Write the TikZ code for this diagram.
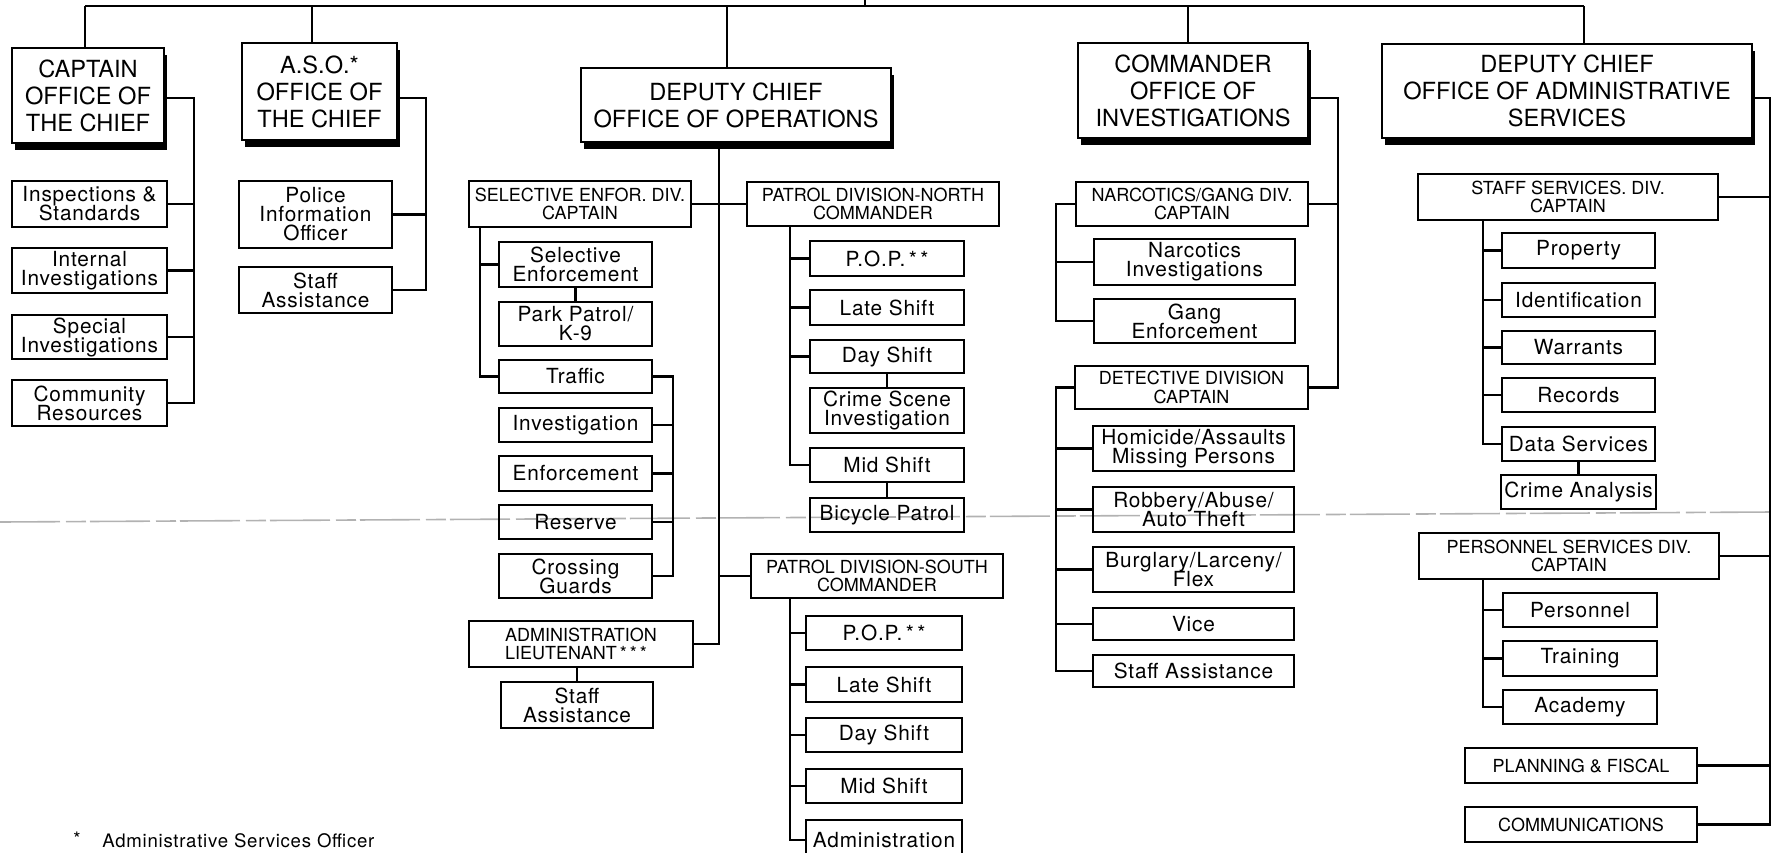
\documentclass[tikz,border=0pt]{standalone}
\usepackage{fontspec}
\setmainfont{TeX Gyre Heros}
\newfontfamily\unitfont[LetterSpace=4]{TeX Gyre Heros}
\usetikzlibrary{positioning,calc,shadows}
\lineskiplimit=-20pt
\tikzset{
  office/.style={draw, line width=1.25pt, fill=white, align=center, inner sep=0pt,
    font=\fontsize{11.8}{13.5}\selectfont,
    drop shadow={shadow xshift=1.6pt, shadow yshift=-3.6pt, fill=black, opacity=1}},
  division/.style={draw, line width=1.2pt, align=center, inner sep=0pt, font=\fontsize{9}{9.4}\selectfont},
  unit/.style={draw, line width=1.2pt, align=center, inner sep=0pt, font=\unitfont\fontsize{10.4}{9.5}\selectfont},
  wh/.style 2 args={minimum width=#1*0.5pt, minimum height=#2*0.5pt},
  link/.style={line width=1.2pt},
  note/.style={inner sep=0pt, font=\unitfont\fontsize{9.3}{11}\selectfont}}

\begin{document}
\begin{tikzpicture}[x=0.5pt, y=-0.5pt]
\useasboundingbox (0,0) rectangle (1772,852);
\clip (0,0) rectangle (1772,852);

% scan seam across the sheet
\coordinate (seamL) at (0,522);
\coordinate (seamR) at (1772,512);
\draw[gray!60, line width=0.8pt, dash pattern=on 30pt off 3pt on 10pt off 2pt] (seamL) -- (seamR);

% offices
\node[office, wh={152}{95}] (capt) at (88,95.5) {CAPTAIN\\OFFICE OF\\THE CHIEF};
\node[office, wh={155}{97}] (aso) at (319.5,91.5) {A.S.O.*\\OFFICE OF\\THE CHIEF};
\node[office, wh={310}{74}] (ops) at (736,105) {DEPUTY CHIEF\\OFFICE OF OPERATIONS};
\node[office, wh={230}{95}] (inv) at (1193,90.5) {COMMANDER\\OFFICE OF\\INVESTIGATIONS};
\node[office, wh={370}{94}] (adm) at (1567,91) {DEPUTY CHIEF\\OFFICE OF ADMINISTRATIVE\\SERVICES};

% office of the chief
\node[unit, wh={155}{46}] (insp) at (89.5,204) {Inspections \&\\Standards};
\node[unit, wh={155}{45}] (intl) at (89.5,270.5) {Internal\\Investigations};
\node[unit, wh={155}{44}] (spec) at (89.5,337) {Special\\Investigations};
\node[unit, wh={155}{46}] (comm) at (89.5,403) {Community\\Resources};
\node[unit, wh={153}{67}] (pio) at (315.5,214.5) {Police\\Information\\Officer};
\node[unit, wh={153}{46}] (asst1) at (315.5,290) {Staff\\Assistance};

% operations
\node[division, wh={222}{46}] (sed) at (580,204) {SELECTIVE ENFOR. DIV.\\CAPTAIN};
\node[division, wh={252}{44}] (pdn) at (873,204) {PATROL DIVISION-NORTH\\COMMANDER};
\node[unit, wh={153}{45}] (selenf) at (575.5,264.5) {Selective\\Enforcement};
\node[unit, wh={153}{44}] (park) at (575.5,324) {Park Patrol/\\K-9};
\node[unit, wh={153}{33}] (traffic) at (575.5,376.5) {Traffic};
\node[unit, wh={153}{34}] (investig) at (575.5,425) {Investigation};
\node[unit, wh={153}{35}] (enforce) at (575.5,473.5) {Enforcement};
\node[unit, wh={153}{34}] (reserve) at (575.5,522) {Reserve};
\node[unit, wh={153}{44}] (crossing) at (575.5,576) {Crossing\\Guards};
\node[division, wh={224}{46}, align=left] (adminlt) at (581,644) {ADMINISTRATION\\LIEUTENANT\,*\,*\,*};
\node[unit, wh={152}{46}] (asst2) at (577,705) {Staff\\Assistance};

\node[unit, wh={154}{35}] (pop1) at (887,258.5) {P.O.P.\,*\,*};
\node[unit, wh={154}{35}] (late1) at (887,307.5) {Late Shift};
\node[unit, wh={154}{33}] (day1) at (887,356.5) {Day Shift};
\node[unit, wh={154}{45}] (csi) at (887,410.5) {Crime Scene\\Investigation};
\node[unit, wh={154}{34}] (mid1) at (887,465) {Mid Shift};
\node[unit, wh={154}{34}] (bike) at (887,515) {Bicycle Patrol};

\node[division, wh={252}{44}] (pds) at (877,576) {PATROL DIVISION-SOUTH\\COMMANDER};
\node[unit, wh={156}{34}] (pop2) at (884,633) {P.O.P.\,*\,*};
\node[unit, wh={156}{35}] (late2) at (884,684.5) {Late Shift};
\node[unit, wh={156}{34}] (day2) at (884,735) {Day Shift};
\node[unit, wh={156}{34}] (mid2) at (884,786) {Mid Shift};
\node[unit, wh={156}{40}] (admn) at (884,840) {Administration};

% investigations
\node[division, wh={232}{44}] (ngd) at (1192,204) {NARCOTICS/GANG DIV.\\CAPTAIN};
\node[unit, wh={201}{46}] (narc) at (1194.5,262) {Narcotics\\Investigations};
\node[unit, wh={201}{44}] (gang) at (1194.5,321) {Gang\\Enforcement};
\node[division, wh={233}{43}] (dd) at (1191.5,387.5) {DETECTIVE DIVISION\\CAPTAIN};
\node[unit, wh={201}{45}] (homi) at (1193.5,448.5) {Homicide/Assaults\\Missing Persons};
\node[unit, wh={201}{45}] (robb) at (1193.5,509.5) {Robbery/Abuse/\\Auto Theft};
\node[unit, wh={201}{45}] (burg) at (1193.5,569.5) {Burglary/Larceny/\\Flex};
\node[unit, wh={201}{32}] (vice) at (1193.5,624) {Vice};
\node[unit, wh={201}{32}] (asst3) at (1193.5,671) {Staff Assistance};

% administrative services
\node[division, wh={300}{46}] (ssd) at (1568,197) {STAFF SERVICES. DIV.\\CAPTAIN};
\node[unit, wh={153}{35}] (prop) at (1578.5,250.5) {Property};
\node[unit, wh={153}{34}] (ident) at (1578.5,300) {Identification};
\node[unit, wh={153}{33}] (warr) at (1578.5,347.5) {Warrants};
\node[unit, wh={153}{34}] (rec) at (1578.5,395) {Records};
\node[unit, wh={153}{34}] (data) at (1578.5,444) {Data Services};
\node[unit, wh={155}{34}] (crime) at (1578.5,492) {Crime Analysis};
\node[division, wh={300}{46}] (psd) at (1569,556) {PERSONNEL SERVICES DIV.\\CAPTAIN};
\node[unit, wh={154}{34}] (pers) at (1580,610) {Personnel};
\node[unit, wh={154}{35}] (train) at (1580,658.5) {Training};
\node[unit, wh={154}{34}] (acad) at (1580,707) {Academy};
\node[division, wh={232}{35}] (plan) at (1581,765.5) {PLANNING \& FISCAL};
\node[division, wh={232}{35}] (comms) at (1581,824.5) {COMMUNICATIONS};

% footnote
\node[note] (star) at (77,839) {*};
\node[note, anchor=west] (fn) at (102,841) {Administrative Services Officer};

% bus to the chief
\coordinate (chief) at (865,0);
\coordinate (bus) at (865,6);
\coordinate (b1) at (85,6);
\coordinate (b2) at (312,6);
\coordinate (b3) at (727,6);
\coordinate (b4) at (1188,6);
\coordinate (b5) at (1584,6);
\coordinate (hy) at (0,98);
\draw[link] (b1) -- (b5);
\draw[link] (bus) -- (chief);
\draw[link] (b1) -- (b1 |- capt.north);
\draw[link] (b2) -- (b2 |- aso.north);
\draw[link] (b3) -- (b3 |- ops.north);
\draw[link] (b4) -- (b4 |- inv.north);
\draw[link] (b5) -- (b5 |- adm.north);

% spines
\coordinate (sp1) at (194,0);
\coordinate (sp2) at (426,0);
\coordinate (sp3) at (719,0);
\coordinate (sp4) at (480,0);
\coordinate (sp5) at (673,0);
\coordinate (sp6) at (790,0);
\coordinate (sp7) at (1338,0);
\coordinate (sp8) at (1056,0);
\coordinate (sp9) at (1770,0);
\coordinate (sp10) at (1483,0);

\draw[link] (capt.east |- hy) -| (sp1 |- comm.east) -- (comm.east);
\foreach \n in {insp,intl,spec} \draw[link] (\n.east) -- (sp1 |- \n.east);
\draw[link] (aso.east |- hy) -| (sp2 |- asst1.east) -- (asst1.east);
\draw[link] (pio.east) -- (sp2 |- pio.east);

\draw[link] (sp3 |- ops.south) -- (sp3 |- adminlt.east) -- (adminlt.east);
\draw[link] (sed.east) -- (pdn.west);
\draw[link] (sp3 |- pds.west) -- (pds.west);
\draw[link] (sp4 |- sed.south) |- (traffic.west);
\draw[link] (selenf.west) -- (sp4 |- selenf.west);
\draw[link] (park.north |- selenf.south) -- (park.north);
\draw[link] (traffic.east) -| (sp5 |- crossing.east) -- (crossing.east);
\foreach \n in {investig,enforce,reserve} \draw[link] (\n.east) -- (sp5 |- \n.east);
\draw[link] (asst2.north |- adminlt.south) -- (asst2.north);
\draw[link] (sp6 |- pdn.south) |- (mid1.west);
\foreach \n in {pop1,late1,day1} \draw[link] (\n.west) -- (sp6 |- \n.west);
\draw[link] (day1.south) -- (csi.north);
\draw[link] (mid1.south) -- (bike.north);
\draw[link] (sp6 |- pds.south) |- (admn.west);
\foreach \n in {pop2,late2,day2,mid2} \draw[link] (\n.west) -- (sp6 |- \n.west);

\draw[link] (inv.east |- hy) -| (sp7 |- dd.east) -- (dd.east);
\draw[link] (ngd.east) -- (sp7 |- ngd.east);
\draw[link] (ngd.west) -| (sp8 |- gang.west) -- (gang.west);
\draw[link] (narc.west) -- (sp8 |- narc.west);
\draw[link] (dd.west) -| (sp8 |- asst3.west) -- (asst3.west);
\foreach \n in {homi,robb,burg,vice} \draw[link] (\n.west) -- (sp8 |- \n.west);

\draw[link] (adm.east |- hy) -| (sp9 |- comms.east) -- (comms.east);
\foreach \n in {ssd,psd,plan} \draw[link] (\n.east) -- (sp9 |- \n.east);
\draw[link] (sp10 |- ssd.south) |- (data.west);
\foreach \n in {prop,ident,warr,rec} \draw[link] (\n.west) -- (sp10 |- \n.west);
\draw[link] (data.south) -- (crime.north);
\draw[link] (sp10 |- psd.south) |- (acad.west);
\foreach \n in {pers,train} \draw[link] (\n.west) -- (sp10 |- \n.west);
\end{tikzpicture}
\end{document}
